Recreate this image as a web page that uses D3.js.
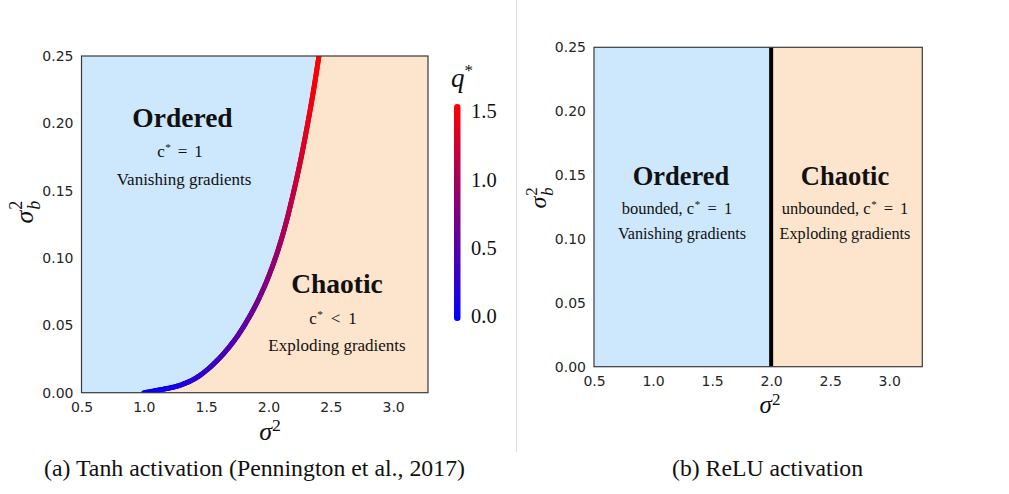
<!DOCTYPE html>
<html>
<head>
<meta charset="utf-8">
<script src="https://cdn.jsdelivr.net/npm/d3@7"></script>
<style>
  html, body { margin: 0; padding: 0; background: #fff; }
  svg { display: block; }
  .tick text { font-family: "DejaVu Sans", sans-serif; font-size: 14px; fill: #262626; }
  .serif { font-family: "Liberation Serif", "Times New Roman", serif; fill: #111; }
</style>
</head>
<body>
<svg id="fig" width="1009" height="494"></svg>
<script>
// Tanh critical line (sigma_w^2, sigma_b^2) and fixed-point q* along it
const tanhSigmaW2 = [1.0, 1.129, 1.236, 1.343, 1.423, 1.503, 1.583, 1.716, 1.85, 1.957, 2.037, 2.117, 2.197, 2.251, 2.304, 2.357, 2.405];
const tanhSigmaB2 = [0.0, 0.0021, 0.0041, 0.0074, 0.0112, 0.0166, 0.0234, 0.0376, 0.0568, 0.0766, 0.0951, 0.1181, 0.1471, 0.1695, 0.1944, 0.2219, 0.25];
const tanhQStar   = [0.0, 0.06, 0.11, 0.18, 0.24, 0.31, 0.37, 0.48, 0.6, 0.72, 0.84, 0.97, 1.12, 1.22, 1.33, 1.43, 1.5];

// ReLU critical point
const reluCritical = 2.0;

const xTicks = [0.5, 1.0, 1.5, 2.0, 2.5, 3.0];
const yTicks = [0.0, 0.05, 0.10, 0.15, 0.20, 0.25];
const qTicks = [0.0, 0.5, 1.0, 1.5];
const xDomain = [0.5, 3.28];
const yDomain = [0.0, 0.25];
const qDomain = [0.0, 1.5];

const captions = ["(a) Tanh activation (Pennington et al., 2017)", "(b) ReLU activation"];

const orderedFill = "#cde8fc";
const chaoticFill = "#fde4cd";
const qColor = d3.scaleLinear().domain(qDomain).range(["#0000ff", "#ff0000"]).interpolate(d3.interpolateRgb);

const svg = d3.select("#fig");
const defs = svg.append("defs");

// thin divider between the two panels
svg.append("line").attr("x1", 516.5).attr("x2", 516.5).attr("y1", 0).attr("y2", 452)
  .attr("stroke", "#dcdcdc").attr("stroke-width", 1);

function drawAxes(g, x, y, id) {
  g.append("g").attr("transform", `translate(0,${y.range()[0]})`)
    .call(d3.axisBottom(x).tickValues(xTicks).tickFormat(d3.format(".1f")).tickSize(0).tickPadding(9))
    .call(a => a.select(".domain").remove());
  g.append("g").attr("transform", `translate(${x.range()[0]},0)`)
    .call(d3.axisLeft(y).tickValues(yTicks).tickFormat(d3.format(".2f")).tickSize(0).tickPadding(8))
    .call(a => a.select(".domain").remove());
  defs.append("clipPath").attr("id", id).append("rect")
    .attr("x", x.range()[0]).attr("y", y.range()[1])
    .attr("width", x.range()[1] - x.range()[0]).attr("height", y.range()[0] - y.range()[1]);
}

function frame(g, x, y) {
  g.append("rect")
    .attr("x", x.range()[0]).attr("y", y.range()[1])
    .attr("width", x.range()[1] - x.range()[0]).attr("height", y.range()[0] - y.range()[1])
    .attr("fill", "none").attr("stroke", "#3a3a3a").attr("stroke-width", 1.2);
}

function xLabel(g, cx, baseline, size) {
  const t = g.append("text").attr("class", "serif").attr("x", cx).attr("y", baseline)
    .attr("text-anchor", "middle").attr("font-size", size).attr("font-style", "italic");
  t.append("tspan").text("σ");
  t.append("tspan").attr("dy", -size * 0.34).attr("font-size", size * 0.68).attr("font-style", "normal").text("2");
}

function yLabel(g, cx, cy, size) {
  const lg = g.append("g").attr("transform", `translate(${cx},${cy}) rotate(-90)`);
  const s = lg.append("text").attr("class", "serif").attr("font-size", size).attr("font-style", "italic").text("σ");
  const w = s.node().getComputedTextLength();
  lg.append("text").attr("class", "serif").attr("x", w + 1).attr("y", -size * 0.4)
    .attr("font-size", size * 0.7).text("2");
  lg.append("text").attr("class", "serif").attr("x", w + 1).attr("y", size * 0.28)
    .attr("font-size", size * 0.7).attr("font-style", "italic").text("b");
  const bb = lg.node().getBBox();
  lg.selectAll("text").attr("transform", `translate(${-bb.x - bb.width / 2},${size * 0.3})`);
}

// "c* <rel> 1" with math-style spacing around the relation sign
function cStar(g, cx, baseline, size, pre, rel, width) {
  const t = g.append("text").attr("class", "serif").attr("x", cx).attr("y", baseline)
    .attr("text-anchor", "middle").attr("font-size", size);
  t.append("tspan").text(pre + "c");
  t.append("tspan").attr("dx", size * 0.03).attr("dy", -size * 0.36).attr("font-size", size * 0.66).text("*");
  const r = t.append("tspan").attr("dy", size * 0.36).text(rel);
  const one = t.append("tspan").text("1");
  const gap = Math.max(2, (width - t.node().getComputedTextLength()) / 2);
  r.attr("dx", gap);
  one.attr("dx", gap);
}

function label(g, text, cx, baseline, size, bold) {
  g.append("text").attr("class", "serif").attr("x", cx).attr("y", baseline)
    .attr("text-anchor", "middle").attr("font-size", size)
    .attr("font-weight", bold ? "bold" : "normal").text(text);
}

// ---------------- Panel (a): tanh ----------------
{
  const g = svg.append("g");
  const x = d3.scaleLinear().domain(xDomain).range([81.5, 428]);
  const y = d3.scaleLinear().domain(yDomain).range([392.7, 56]);
  drawAxes(g, x, y, "clipA");
  const plot = g.append("g").attr("clip-path", "url(#clipA)");

  plot.append("rect").attr("x", x.range()[0]).attr("y", y.range()[1])
    .attr("width", x.range()[1] - x.range()[0]).attr("height", y.range()[0] - y.range()[1])
    .attr("fill", chaoticFill);

  const pts = tanhSigmaW2.map((w, i) => [w, tanhSigmaB2[i], tanhQStar[i]]);
  // ordered region: everything left of the critical line
  const area = d3.area().curve(d3.curveMonotoneY)
    .y(d => y(d[1])).x0(x(xDomain[0])).x1(d => x(d[0]));
  plot.append("path").datum(pts).attr("d", area).attr("fill", orderedFill);
  plot.append("rect").attr("x", x(xDomain[0])).attr("y", y(0) - 1)
    .attr("width", x(tanhSigmaW2[0]) - x(xDomain[0])).attr("height", 2).attr("fill", orderedFill);

  // critical line coloured by q*
  const line = d3.line().curve(d3.curveMonotoneY).x(d => x(d[0])).y(d => y(d[1]));
  const guide = plot.append("path").datum(pts).attr("d", line).attr("fill", "none").attr("stroke", "none");
  const node = guide.node();
  const len = node.getTotalLength();
  const qOfB = d3.scaleLinear().domain(tanhSigmaB2).range(tanhQStar).clamp(true);
  const n = 260;
  const samples = d3.range(n + 1).map(i => node.getPointAtLength(len * i / n));
  for (let i = 0; i < n; i++) {
    const a = samples[i], b = samples[i + 1];
    const q = qOfB(y.invert((a.y + b.y) / 2));
    plot.append("line").attr("x1", a.x).attr("y1", a.y).attr("x2", b.x).attr("y2", b.y)
      .attr("stroke", qColor(q)).attr("stroke-width", 5).attr("stroke-linecap", "round");
  }
  frame(g, x, y);

  label(g, "Ordered", 182.5, 127, 27.5, true);
  cStar(g, 180, 157, 17, "", "=", 45);
  label(g, "Vanishing gradients", 184, 185, 17, false);
  label(g, "Chaotic", 337, 293, 27.5, true);
  cStar(g, 333, 324, 17, "", "<", 47);
  label(g, "Exploding gradients", 337, 351, 17, false);

  xLabel(g, 270, 440, 26);
  yLabel(g, 25, 212, 26);

  // colour bar for q*
  const qs = d3.scaleLinear().domain(qDomain).range([316, 111]);
  const grad = defs.append("linearGradient").attr("id", "qgrad")
    .attr("x1", 0).attr("y1", 1).attr("x2", 0).attr("y2", 0);
  d3.range(0, 1.0001, 0.1).forEach(t => {
    grad.append("stop").attr("offset", t).attr("stop-color", qColor(qDomain[0] + t * (qDomain[1] - qDomain[0])));
  });
  g.append("rect").attr("x", 454).attr("y", 104).attr("width", 6.5).attr("height", 217)
    .attr("rx", 3.25).attr("fill", "url(#qgrad)");
  qTicks.forEach(v => {
    g.append("text").attr("class", "serif").attr("x", 471).attr("y", qs(v)).attr("dy", "0.35em")
      .attr("font-size", 20.5).text(d3.format(".1f")(v));
  });
  const qt = g.append("text").attr("class", "serif").attr("x", 451).attr("y", 87)
    .attr("font-size", 27).attr("font-style", "italic");
  qt.append("tspan").text("q");
  qt.append("tspan").attr("dy", -11).attr("font-size", 17).attr("font-style", "normal").text("*");
}

// ---------------- Panel (b): ReLU ----------------
{
  const g = svg.append("g");
  const x = d3.scaleLinear().domain(xDomain).range([594, 922.3]);
  const y = d3.scaleLinear().domain(yDomain).range([366.7, 47.3]);
  drawAxes(g, x, y, "clipB");
  const plot = g.append("g").attr("clip-path", "url(#clipB)");
  plot.append("rect").attr("x", x(xDomain[0])).attr("y", y(yDomain[1]))
    .attr("width", x(reluCritical) - x(xDomain[0])).attr("height", y(yDomain[0]) - y(yDomain[1]))
    .attr("fill", orderedFill);
  plot.append("rect").attr("x", x(reluCritical)).attr("y", y(yDomain[1]))
    .attr("width", x(xDomain[1]) - x(reluCritical)).attr("height", y(yDomain[0]) - y(yDomain[1]))
    .attr("fill", chaoticFill);
  plot.append("line").attr("x1", x(reluCritical)).attr("x2", x(reluCritical))
    .attr("y1", y(yDomain[0])).attr("y2", y(yDomain[1]))
    .attr("stroke", "#000").attr("stroke-width", 4);
  frame(g, x, y);

  label(g, "Ordered", 681, 185, 26.5, true);
  cStar(g, 677, 214, 16.5, "bounded, ", "=", 110);
  label(g, "Vanishing gradients", 682, 239, 16.2, false);
  label(g, "Chaotic", 845, 185, 26.5, true);
  cStar(g, 845, 214, 16.5, "unbounded, ", "=", 126);
  label(g, "Exploding gradients", 845, 239, 16.2, false);

  xLabel(g, 770, 413, 25);
  yLabel(g, 539, 198, 24);
}

// captions
svg.append("text").attr("class", "serif").attr("x", 44).attr("y", 476).attr("font-size", 23.6)
  .attr("textLength", 421).attr("lengthAdjust", "spacingAndGlyphs").text(captions[0]);
svg.append("text").attr("class", "serif").attr("x", 672).attr("y", 476).attr("font-size", 23.6)
  .attr("textLength", 191).attr("lengthAdjust", "spacingAndGlyphs").text(captions[1]);
</script>
</body>
</html>
